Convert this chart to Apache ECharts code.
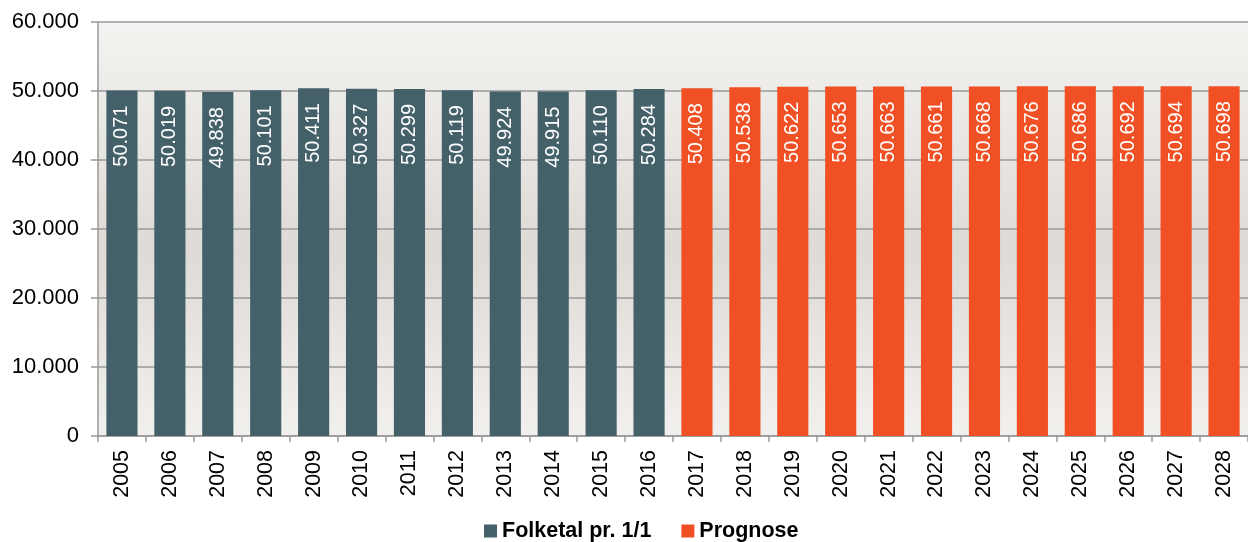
<!DOCTYPE html>
<html>
<head>
<meta charset="utf-8">
<script src="https://cdn.jsdelivr.net/npm/echarts@6/dist/echarts.min.js"></script>
<style>
  html, body { margin: 0; padding: 0; background: #fff; }
  #chart { width: 1248px; height: 542px; }
</style>
</head>
<body>
<div id="chart"></div>
<script>
// år
var years = ['2005', '2006', '2007', '2008', '2009', '2010', '2011', '2012', '2013', '2014', '2015', '2016',
  '2017', '2018', '2019', '2020', '2021', '2022', '2023', '2024', '2025', '2026', '2027', '2028'];
// folketal pr. 1/1 (2005-2016)
var folketal = [50071, 50019, 49838, 50101, 50411, 50327, 50299, 50119, 49924, 49915, 50110, 50284];
// prognose (2017-2028)
var prognose = [50408, 50538, 50622, 50653, 50663, 50661, 50668, 50676, 50686, 50692, 50694, 50698];

var yTicks = [0, 10000, 20000, 30000, 40000, 50000, 60000];

function fmt(v) {
  return String(v).replace(/\B(?=(\d{3})+(?!\d))/g, '.');
}

var histData = years.map(function (y, i) { return i < folketal.length ? folketal[i] : null; });
var progData = years.map(function (y, i) { return i >= folketal.length ? prognose[i - folketal.length] : null; });

var label = {
  show: true,
  position: 'insideTop',
  rotate: 90,
  align: 'right',
  verticalAlign: 'middle',
  distance: 15,
  color: '#fff',
  fontSize: 20,
  formatter: function (p) { return fmt(p.value); }
};

var myChart = echarts.init(document.getElementById('chart'));
myChart.setOption({
  animation: false,
  textStyle: { fontFamily: 'Liberation Sans, Arial, sans-serif' },
  grid: {
    left: 98, right: 0, top: 22, bottom: 106,
    show: true,
    borderWidth: 0,
    backgroundColor: {
      type: 'linear', x: 0, y: 0, x2: 0, y2: 1,
      colorStops: [
        { offset: 0, color: '#f4f3f1' },
        { offset: 0.55, color: '#dedad6' },
        { offset: 1, color: '#f2f0ee' }
      ]
    }
  },
  legend: {
    top: 520,
    left: 484,
    padding: 0,
    itemWidth: 13,
    itemHeight: 13,
    itemGap: 30,
    icon: 'rect',
    textStyle: { fontSize: 21.5, fontWeight: 'bold', color: '#000' },
    data: ['Folketal pr. 1/1', 'Prognose']
  },
  xAxis: {
    type: 'category',
    data: years,
    boundaryGap: true,
    axisLine: { lineStyle: { color: '#999', width: 1.5 } },
    axisTick: { show: true, length: 6, lineStyle: { color: '#999', width: 1.5 } },
    axisLabel: { rotate: 90, fontSize: 21.5, color: '#000', margin: 14 }
  },
  yAxis: {
    type: 'value',
    min: yTicks[0],
    max: yTicks[yTicks.length - 1],
    interval: 10000,
    axisLine: { show: true, lineStyle: { color: '#999', width: 1.5 } },
    axisTick: { show: true, length: 7, lineStyle: { color: '#999', width: 1.5 } },
    splitLine: { lineStyle: { color: '#9a9a9a', width: 1.5 } },
    axisLabel: { fontSize: 22, color: '#000', margin: 19, formatter: fmt }
  },
  series: [
    {
      name: 'Folketal pr. 1/1',
      type: 'bar',
      data: histData,
      barWidth: '65%',
      barGap: '-100%',
      itemStyle: { color: '#44616a' },
      label: label
    },
    {
      name: 'Prognose',
      type: 'bar',
      data: progData,
      barWidth: '65%',
      itemStyle: { color: '#f05023' },
      label: label
    }
  ]
});
</script>
</body>
</html>
